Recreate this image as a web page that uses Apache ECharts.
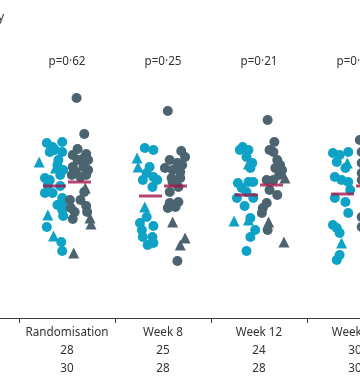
<!DOCTYPE html>
<html>
<head>
<meta charset="utf-8">
<script src="https://cdn.jsdelivr.net/npm/echarts@6/dist/echarts.min.js"></script>
<style>html,body{margin:0;padding:0;background:#fff;}#c{width:360px;height:376px;}</style>
</head>
<body>
<div id="c"></div>
<script>
// ---- data ----
const categories = ['Enrolment', 'Randomisation', 'Week 8', 'Week 12', 'Week 24'];
const nGroupA = [30, 28, 25, 24, 30];
const nGroupB = [30, 30, 28, 28, 30];
const pValues = ['', 'p=0·62', 'p=0·25', 'p=0·21', 'p=0·48'];

// values per timepoint (index matches categories); shape: c = circle, t = triangle
const cyanValues = [
  [],
  [17.5,17.1,17.6,16.6,16.6,15.8,14.8,15.3,14.0,13.8,13.2,12.5,12.5,12.0,11.3,10.8,10.2,9.1,7.6,6.7,16.8,14.3,11.3,13.3,15.6,15.0,10.3,8.2],
  [17.0,16.8,15.1,14.5,13.8,14.1,13.8,13.1,10.1,9.5,9.2,8.8,8.1,8.1,7.5,7.3,16.0,15.1,11.1],
  [16.8,17.1,16.8,16.1,15.0,15.5,13.5,13.6,13.6,13.0,12.6,12.0,12.0,11.2,10.0,8.8,8.1,6.7,9.7,9.8,15.4],
  [16.5,16.3,16.6,15.6,15.0,14.1,13.8,13.6,12.8,12.0,11.6,10.5,9.3,9.0,8.5,6.3,5.8,15.5,7.5]
];
const cyanJitter = [
  [],
  [-0.21,-0.15,-0.05,-0.18,-0.05,-0.09,-0.04,-0.10,-0.23,-0.18,-0.07,-0.23,-0.15,-0.05,-0.05,-0.05,-0.04,-0.21,-0.06,-0.05,-0.125,-0.07,-0.10,-0.20,-0.29,-0.12,-0.20,-0.14],
  [-0.19,-0.10,-0.14,-0.17,-0.21,-0.10,-0.06,-0.11,-0.17,-0.24,-0.10,-0.22,-0.21,-0.11,-0.10,-0.16,-0.27,-0.26,-0.19],
  [-0.20,-0.17,-0.11,-0.13,-0.09,-0.07,-0.22,-0.11,-0.06,-0.18,-0.13,-0.23,-0.06,-0.15,-0.09,-0.04,-0.09,-0.13,-0.26,-0.11,-0.11],
  [-0.23,-0.16,-0.07,-0.19,-0.10,-0.21,-0.14,-0.07,-0.05,-0.21,-0.10,-0.07,-0.23,-0.19,-0.16,-0.16,-0.19,-0.08,-0.14]
];
const cyanShape = [
  [],
  ['c','c','c','c','c','c','c','c','c','c','c','c','c','c','c','c','c','c','c','c','c','c','c','c','t','t','t','t'],
  ['c','c','c','c','c','c','c','c','c','c','c','c','c','c','c','c','t','t','t'],
  ['c','c','c','c','c','c','c','c','c','c','c','c','c','c','c','c','c','c','t','t','t'],
  ['c','c','c','c','c','c','c','c','c','c','c','c','c','c','c','c','c','t','t']
];

const grayValues = [
  [],
  [22.0,18.4,16.9,16.3,16.4,15.9,15.8,15.1,15.1,14.8,14.3,14.1,14.3,12.6,11.8,11.0,10.6,11.2,10.6,9.9,15.8,14.6,11.8,13.0,10.0,9.4,6.5],
  [20.7,16.7,16.1,15.8,15.5,15.3,15.0,14.8,14.6,14.0,14.0,13.6,13.1,12.6,11.5,11.6,11.0,11.1,5.7,9.6,8.0,7.3],
  [19.8,17.6,16.8,16.6,15.8,15.3,15.0,14.8,14.3,13.8,13.8,12.8,12.3,11.5,11.0,10.5,8.8,14.0,9.6,7.6],
  [17.8,16.6,15.5,14.5,13.8,10.1,9.1]
];
const grayJitter = [
  [],
  [0.10,0.18,0.11,0.06,0.20,0.16,0.22,0.06,0.17,0.22,0.05,0.14,0.20,0.18,0.03,0.04,0.08,0.20,0.21,0.06,0.11,0.09,0.14,0.19,0.24,0.25,0.07],
  [0.05,0.19,0.23,0.07,0.15,0.20,0.02,0.10,0.18,0.09,0.18,0.10,0.16,0.07,0.07,0.16,0.05,0.13,0.15,0.10,0.23,0.18],
  [0.09,0.16,0.11,0.15,0.19,0.22,0.17,0.24,0.21,0.08,0.15,0.11,0.19,0.08,0.04,0.03,0.09,0.27,0.10,0.26],
  [0.05,0.07,0.07,0.07,0.07,0.07,0.07]
];
const grayShape = [
  [],
  ['c','c','c','c','c','c','c','c','c','c','c','c','c','c','c','c','c','c','c','c','c','c','c','t','t','t','t'],
  ['c','c','c','c','c','c','c','c','c','c','c','c','c','c','c','c','c','c','c','t','t','t'],
  ['c','c','c','c','c','c','c','c','c','c','c','c','c','c','c','c','c','t','t','t'],
  ['c','c','c','c','c','c','c']
];

const cyanMedian = [null, 13.2, 12.2, 12.3, 12.4];
const grayMedian = [null, 13.6, 13.2, 13.3, 13.2];

// ---- build series ----
const CYAN = '#0ea2c6', GRAY = '#4b6470', RED = '#a3164c';
function pts(values, jitter, shapes, shape) {
  const out = [];
  values.forEach((arr, i) => arr.forEach((v, k) => {
    if (shapes[i][k] === shape) out.push([i + 0.5 + jitter[i][k], v]);
  }));
  return out;
}
function medians(arr, side) {
  const out = [];
  arr.forEach((v, i) => { if (v != null) out.push([i + 0.5 + side * 0.13, v]); });
  return out;
}
const centers = categories.map((c, i) => i + 0.5);

const chart = echarts.init(document.getElementById('c'), null, {renderer: 'canvas'});
const font = 'Noto Sans';
chart.setOption({
  animation: false,
  backgroundColor: '#ffffff',
  title: {
    text: 'Monthly frequency', right: 356, top: 12, padding: 0,
    textStyle: {fontFamily: font, fontSize: 12, fontWeight: 'normal', color: '#333'}
  },
  grid: {left: -77, right: -43, top: 70, bottom: 58, containLabel: false, outerBoundsMode: 'none'},
  xAxis: [
    {
      type: 'value', min: 0, max: 5, position: 'bottom',
      axisLine: {show: true, lineStyle: {color: '#3a3a3a', width: 1}},
      axisTick: {show: true, length: 5, customValues: [0, 1, 2, 3, 4, 5], lineStyle: {color: '#3a3a3a'}},
      splitLine: {show: false},
      axisLabel: {
        show: true, customValues: centers, margin: 6, lineHeight: 18,
        fontFamily: font, fontSize: 11.7, color: '#333',
        formatter: function (v) {
          const i = Math.round(v - 0.5);
          return categories[i] + '\n' + nGroupA[i] + '\n' + nGroupB[i];
        }
      }
    },
    {
      type: 'value', min: 0, max: 5, position: 'top',
      axisLine: {show: false}, axisTick: {show: false}, splitLine: {show: false},
      axisLabel: {
        show: true, customValues: centers, margin: 2,
        fontFamily: font, fontSize: 11.7, color: '#333',
        formatter: function (v) { return pValues[Math.round(v - 0.5)]; }
      }
    }
  ],
  yAxis: {type: 'value', min: 0, max: 24.8, show: false},
  series: [
    {type: 'scatter', xAxisIndex: 0, symbol: 'circle', symbolSize: 10, itemStyle: {color: CYAN, opacity: 1}, data: pts(cyanValues, cyanJitter, cyanShape, 'c')},
    {type: 'scatter', xAxisIndex: 0, symbol: 'triangle', symbolSize: 11, itemStyle: {color: CYAN, opacity: 1}, data: pts(cyanValues, cyanJitter, cyanShape, 't')},
    {type: 'scatter', xAxisIndex: 0, symbol: 'circle', symbolSize: 10, itemStyle: {color: GRAY, opacity: 1}, data: pts(grayValues, grayJitter, grayShape, 'c')},
    {type: 'scatter', xAxisIndex: 0, symbol: 'triangle', symbolSize: 11, itemStyle: {color: GRAY, opacity: 1}, data: pts(grayValues, grayJitter, grayShape, 't')},
    {type: 'scatter', xAxisIndex: 0, symbol: 'rect', symbolSize: [23, 3], itemStyle: {color: RED}, z: 5, data: medians(cyanMedian, -1)},
    {type: 'scatter', xAxisIndex: 0, symbol: 'rect', symbolSize: [23, 3], itemStyle: {color: RED}, z: 5, data: medians(grayMedian, 1)}
  ]
});
</script>
</body>
</html>
